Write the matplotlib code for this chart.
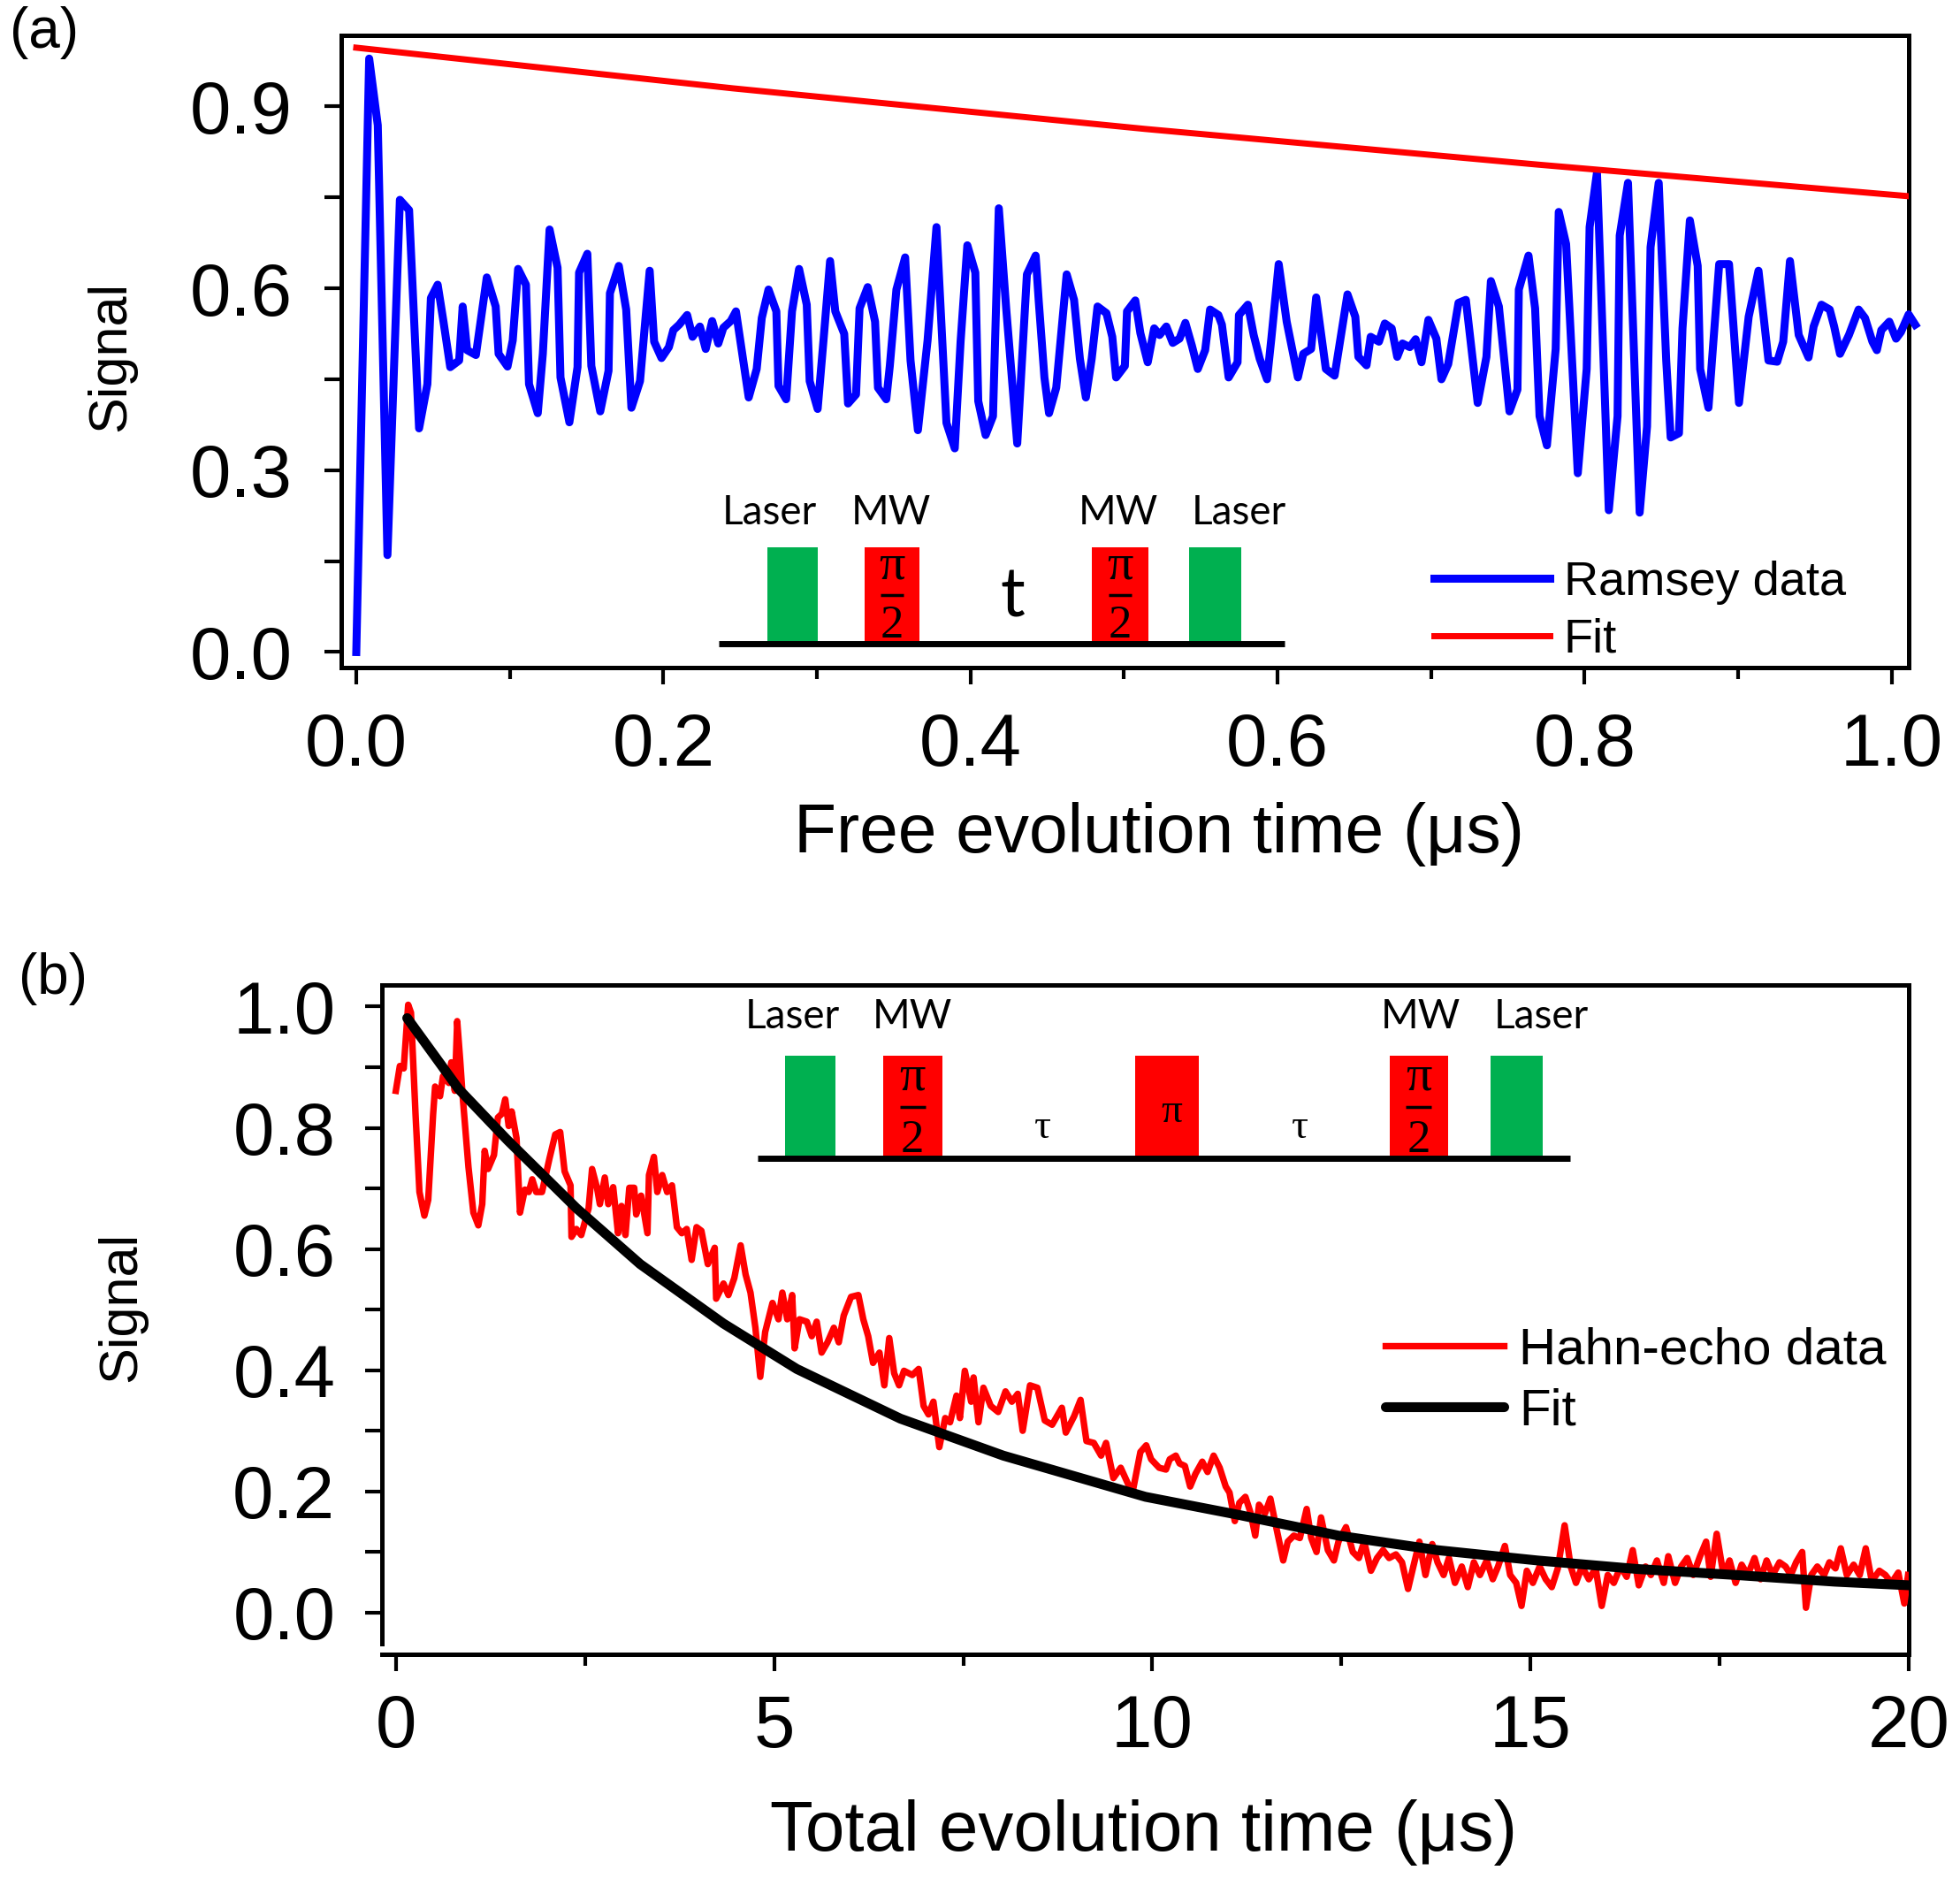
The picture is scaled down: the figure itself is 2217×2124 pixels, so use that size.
import matplotlib
matplotlib.use("Agg")
import matplotlib.pyplot as plt
from matplotlib.patches import Rectangle
from matplotlib.ticker import MultipleLocator, FormatStrFormatter

plt.rcParams['font.family'] = ['Liberation Sans', 'DejaVu Sans']

# ---------------- Panel (a): Ramsey ----------------
ramsey_t = [0.000, 0.0084, 0.0140, 0.0203, 0.0284, 0.0344, 0.0409, 0.0463, 0.0486, 0.0530,
            0.0568, 0.0612, 0.0670, 0.0693, 0.0722, 0.0779, 0.0850, 0.0908, 0.0927, 0.0985,
            0.1019, 0.1054, 0.1105, 0.1125, 0.1182, 0.1215, 0.1259, 0.1311, 0.1330, 0.1388,
            0.1441, 0.1451, 0.1505, 0.1531, 0.1589, 0.1643, 0.1652, 0.1710, 0.1758, 0.1792,
            0.1848, 0.1911, 0.1940, 0.1988, 0.2036, 0.2065, 0.2103, 0.2155, 0.2190, 0.2238,
            0.2276, 0.2318, 0.2358, 0.2391, 0.2439, 0.2473, 0.2556,
            0.2608, 0.2641, 0.2685, 0.2736, 0.2750, 0.2800, 0.2838, 0.2884, 0.2934, 0.2953,
            0.3005, 0.3044, 0.3086, 0.3120, 0.3178, 0.3203, 0.3255, 0.3278, 0.3331, 0.3379,
            0.3398, 0.3452, 0.3475, 0.3518, 0.3575, 0.3610, 0.3658, 0.3721, 0.3779, 0.3844,
            0.3898, 0.3936, 0.3980, 0.4032, 0.4051, 0.4099, 0.4147, 0.4185, 0.4233, 0.4305,
            0.4368, 0.4425, 0.4445, 0.4482, 0.4512, 0.4559, 0.4627, 0.4675, 0.4713, 0.4752,
            0.4790, 0.4828, 0.4886, 0.4924, 0.4949, 0.5006, 0.5020, 0.5074,
            0.5107, 0.5155, 0.5197, 0.5232, 0.5276, 0.5318, 0.5362, 0.5400, 0.5442, 0.5481,
            0.5529, 0.5561, 0.5615, 0.5638, 0.5682, 0.5740, 0.5749, 0.5807, 0.5845, 0.5884,
            0.5932, 0.5960, 0.6008, 0.6060, 0.6133, 0.6168, 0.6219, 0.6252, 0.6315, 0.6372,
            0.6456, 0.6507, 0.6527, 0.6580, 0.6607, 0.6661, 0.6699, 0.6744, 0.6780, 0.6814,
            0.6862, 0.6900, 0.6938, 0.6983, 0.7035, 0.7068, 0.7112, 0.7179, 0.7227, 0.7304,
            0.7361, 0.7390, 0.7442, 0.7511, 0.7563, 0.7572, 0.7635,
            0.7678, 0.7707, 0.7755, 0.7812, 0.7832, 0.7880, 0.7956, 0.8014, 0.8033, 0.8081,
            0.8158, 0.8215, 0.8229, 0.8283, 0.8359, 0.8407, 0.8430, 0.8483, 0.8532, 0.8561,
            0.8615, 0.8638, 0.8686, 0.8737, 0.8753, 0.8807, 0.8877, 0.8941, 0.9006, 0.9069,
            0.9133, 0.9198, 0.9255, 0.9294, 0.9338, 0.9395, 0.9459, 0.9492, 0.9543, 0.9597,
            0.9626, 0.9664, 0.9722, 0.9785, 0.9827, 0.9875, 0.9904, 0.9933, 0.9985, 1.0029,
            1.0061, 1.0111, 1.0154]
ramsey_v = [0.000, 0.979, 0.869, 0.160, 0.746, 0.729, 0.369, 0.442, 0.584, 0.606,
            0.545, 0.470, 0.481, 0.570, 0.498, 0.490, 0.618, 0.570, 0.492, 0.471,
            0.514, 0.632, 0.606, 0.442, 0.394, 0.492, 0.697, 0.634, 0.453, 0.379,
            0.470, 0.626, 0.657, 0.472, 0.397, 0.464, 0.592, 0.637, 0.565, 0.403,
            0.447, 0.629, 0.512, 0.485, 0.503, 0.531, 0.540, 0.556, 0.520, 0.537,
            0.500, 0.546, 0.509, 0.535, 0.546, 0.562, 0.420,
            0.467, 0.551, 0.598, 0.562, 0.439, 0.417, 0.562, 0.632, 0.573, 0.447,
            0.401, 0.517, 0.645, 0.562, 0.525, 0.410, 0.425, 0.567, 0.602, 0.545,
            0.436, 0.417, 0.472, 0.598, 0.651, 0.481, 0.366, 0.514, 0.701, 0.378,
            0.336, 0.512, 0.671, 0.626, 0.414, 0.358, 0.389, 0.732, 0.567, 0.344,
            0.623, 0.654, 0.579, 0.453, 0.394, 0.436, 0.623, 0.581, 0.484, 0.420,
            0.484, 0.570, 0.559, 0.520, 0.453, 0.472, 0.562, 0.580,
            0.526, 0.478, 0.534, 0.523, 0.537, 0.510, 0.517, 0.543, 0.506, 0.467,
            0.498, 0.565, 0.556, 0.540, 0.453, 0.478, 0.556, 0.573, 0.523, 0.484,
            0.450, 0.517, 0.640, 0.545, 0.453, 0.492, 0.500, 0.585, 0.467, 0.456,
            0.590, 0.553, 0.487, 0.473, 0.520, 0.512, 0.542, 0.534, 0.487, 0.509,
            0.503, 0.516, 0.478, 0.548, 0.517, 0.450, 0.475, 0.576, 0.581, 0.411,
            0.487, 0.612, 0.570, 0.397, 0.433, 0.598, 0.654,
            0.567, 0.389, 0.341, 0.500, 0.726, 0.673, 0.295, 0.467, 0.701, 0.791,
            0.234, 0.389, 0.687, 0.774, 0.230, 0.372, 0.668, 0.774, 0.481, 0.354,
            0.361, 0.534, 0.712, 0.637, 0.467, 0.403, 0.640, 0.640, 0.411, 0.553,
            0.629, 0.481, 0.479, 0.512, 0.645, 0.523, 0.486, 0.537, 0.573, 0.565,
            0.537, 0.492, 0.523, 0.565, 0.551, 0.512, 0.498, 0.531, 0.545, 0.517,
            0.528, 0.557, 0.540]
ramsey_fit_t = [0.0, 0.245, 0.5135, 0.77, 1.011]
ramsey_fit_v = [0.997, 0.930, 0.863, 0.804, 0.752]

# ---------------- Panel (b): Hahn echo ----------------
hahn_t = [0.000, 0.053, 0.104, 0.163, 0.200, 0.260, 0.312, 0.377, 0.428, 0.493,
          0.519, 0.584, 0.623, 0.701, 0.733, 0.779, 0.811, 0.850, 0.882, 0.960,
          1.025, 1.090, 1.142, 1.174, 1.219, 1.297, 1.349, 1.401, 1.446, 1.492,
          1.531, 1.595, 1.641, 1.706, 1.757, 1.803, 1.855, 1.932, 2.030, 2.107,
          2.172, 2.231, 2.309, 2.322, 2.386, 2.451, 2.548, 2.594, 2.659, 2.697,
          2.762, 2.808, 2.873, 2.937, 2.983, 3.035, 3.086, 3.151, 3.177, 3.242,
          3.326, 3.346, 3.411, 3.456, 3.521, 3.586, 3.650, 3.715, 3.780, 3.845,
          3.910, 3.975, 4.039, 4.124, 4.215, 4.234, 4.331, 4.396, 4.474, 4.558,
          4.623, 4.688, 4.753, 4.817, 4.882, 4.979, 5.058, 5.109, 5.174, 5.239,
          5.271, 5.336, 5.433, 5.498, 5.563, 5.628, 5.706, 5.790, 5.855, 5.920,
          6.017, 6.114, 6.179, 6.244, 6.308, 6.393, 6.457, 6.522, 6.587, 6.652,
          6.717, 6.827, 6.911, 6.976, 7.041, 7.106, 7.184, 7.262, 7.326, 7.411,
          7.456, 7.521, 7.605, 7.637, 7.702, 7.767, 7.864, 7.962, 8.059, 8.143,
          8.221, 8.286, 8.383, 8.480, 8.578, 8.675, 8.804, 8.856, 8.966, 9.051,
          9.129, 9.226, 9.323, 9.388, 9.485, 9.582, 9.680, 9.744, 9.842, 9.919,
          9.984, 10.09, 10.18, 10.23, 10.31, 10.36, 10.43, 10.50, 10.57, 10.66,
          10.73, 10.81, 10.89, 10.97, 11.02, 11.09, 11.15, 11.23, 11.30, 11.36,
          11.41, 11.49, 11.56, 11.62, 11.73, 11.79, 11.87, 11.95, 12.04, 12.10,
          12.17, 12.23, 12.32, 12.40, 12.46, 12.56, 12.65, 12.73, 12.80, 12.89,
          12.97, 13.05, 13.13, 13.22, 13.30, 13.38, 13.45, 13.53, 13.61, 13.70,
          13.77, 13.85, 13.92, 14.00, 14.09, 14.17, 14.25, 14.33, 14.42, 14.50,
          14.57, 14.66, 14.73, 14.81, 14.88, 14.95, 15.03, 15.12, 15.20, 15.28,
          15.36, 15.45, 15.53, 15.60, 15.68, 15.77, 15.86, 15.94, 16.02, 16.10,
          16.19, 16.27, 16.35, 16.43, 16.52, 16.59, 16.67, 16.76, 16.82, 16.91,
          16.99, 17.07, 17.15, 17.24, 17.32, 17.38, 17.46, 17.55, 17.63, 17.71,
          17.79, 17.87, 17.96, 18.04, 18.12, 18.20, 18.29, 18.37, 18.44, 18.51,
          18.59, 18.64, 18.71, 18.79, 18.88, 18.95, 19.03, 19.10, 19.18, 19.27,
          19.35, 19.43, 19.51, 19.61, 19.69, 19.77, 19.86, 19.94, 19.99]
hahn_v = [0.861, 0.902, 0.898, 1.003, 0.990, 0.823, 0.694, 0.655, 0.681, 0.823,
          0.868, 0.852, 0.885, 0.874, 0.908, 0.861, 0.976, 0.912, 0.854, 0.735,
          0.660, 0.639, 0.674, 0.762, 0.732, 0.755, 0.817, 0.823, 0.847, 0.803,
          0.827, 0.783, 0.660, 0.698, 0.694, 0.715, 0.694, 0.694, 0.749, 0.789,
          0.793, 0.728, 0.705, 0.620, 0.633, 0.623, 0.667, 0.732, 0.701, 0.674,
          0.718, 0.674, 0.702, 0.626, 0.671, 0.623, 0.701, 0.701, 0.657, 0.688,
          0.626, 0.722, 0.752, 0.694, 0.722, 0.694, 0.705, 0.636, 0.626, 0.633,
          0.582, 0.636, 0.630, 0.575, 0.602, 0.518, 0.543, 0.524, 0.552, 0.606,
          0.558, 0.528, 0.470, 0.389, 0.463, 0.511, 0.484, 0.528, 0.484, 0.524,
          0.436, 0.484, 0.480, 0.456, 0.480, 0.429, 0.446, 0.470, 0.446, 0.490,
          0.521, 0.524, 0.484, 0.456, 0.412, 0.429, 0.375, 0.453, 0.395, 0.375,
          0.399, 0.392, 0.402, 0.341, 0.327, 0.348, 0.273, 0.321, 0.314, 0.358,
          0.321, 0.399, 0.348, 0.388, 0.314, 0.371, 0.341, 0.331, 0.365, 0.348,
          0.361, 0.300, 0.375, 0.371, 0.317, 0.310, 0.338, 0.297, 0.324, 0.351,
          0.283, 0.280, 0.259, 0.280, 0.222, 0.239, 0.212, 0.202, 0.265, 0.276,
          0.253, 0.239, 0.236, 0.253, 0.259, 0.246, 0.242, 0.208, 0.229, 0.249,
          0.232, 0.259, 0.239, 0.208, 0.198, 0.151, 0.181, 0.191, 0.164, 0.127,
          0.178, 0.164, 0.188, 0.151, 0.086, 0.117, 0.127, 0.123, 0.171, 0.123,
          0.100, 0.157, 0.103, 0.086, 0.117, 0.141, 0.100, 0.090, 0.117, 0.069,
          0.090, 0.103, 0.090, 0.096, 0.083, 0.039, 0.076, 0.117, 0.062, 0.113,
          0.083, 0.062, 0.090, 0.049, 0.076, 0.042, 0.083, 0.062, 0.086, 0.055,
          0.076, 0.110, 0.062, 0.049, 0.011, 0.069, 0.049, 0.076, 0.055, 0.042,
          0.073, 0.144, 0.076, 0.049, 0.076, 0.055, 0.073, 0.011, 0.062, 0.049,
          0.076, 0.059, 0.103, 0.045, 0.076, 0.062, 0.086, 0.049, 0.093, 0.049,
          0.076, 0.090, 0.062, 0.093, 0.117, 0.059, 0.130, 0.062, 0.086, 0.049,
          0.079, 0.062, 0.090, 0.055, 0.086, 0.062, 0.083, 0.076, 0.062, 0.083,
          0.100, 0.008, 0.062, 0.076, 0.062, 0.083, 0.073, 0.106, 0.062, 0.079,
          0.062, 0.106, 0.052, 0.069, 0.062, 0.049, 0.066, 0.015, 0.062]
hahn_fit_t = [0.15, 0.83, 1.48, 2.39, 3.23, 4.33, 5.30, 6.67, 8.03, 9.91,
              11.15, 12.46, 13.77, 15.09, 16.40, 17.71, 19.02, 20.0]
hahn_fit_v = [0.981, 0.864, 0.779, 0.667, 0.575, 0.477, 0.402, 0.320, 0.259, 0.191,
              0.161, 0.127, 0.103, 0.086, 0.072, 0.062, 0.051, 0.045]

BLUE = '#0000FF'
RED = '#FF0000'
GREEN = '#00B050'

fig = plt.figure(figsize=(22.17, 21.24), dpi=100)
axa = fig.add_axes([0.1741, 0.6445, 0.7997, 0.3367])
axb = fig.add_axes([0.1949, 0.1191, 0.7790, 0.3564])

TICK_FS = 60
for ax in (axa, axb):
    for s in ax.spines.values():
        s.set_linewidth(3.6)
    ax.tick_params(which='both', direction='out', width=3, top=False, right=False)
    ax.tick_params(which='major', length=14, labelsize=TICK_FS)
    ax.tick_params(axis='y', which='minor', length=14)
    ax.tick_params(axis='x', which='minor', length=9)

# ---- Panel a ----
axa.plot(ramsey_t, ramsey_v, color=BLUE, lw=6.5, label='Ramsey data', clip_on=False, zorder=3)
axa.plot(ramsey_fit_t, ramsey_fit_v, color=RED, lw=5, label='Fit', zorder=4)
axa.set_xlim(-0.0098, 1.0111)
axa.set_ylim(-0.0257, 1.0174)
axa.xaxis.set_major_locator(MultipleLocator(0.2))
axa.xaxis.set_minor_locator(MultipleLocator(0.1))
axa.yaxis.set_major_locator(MultipleLocator(0.3))
axa.yaxis.set_minor_locator(MultipleLocator(0.15))
axa.xaxis.set_major_formatter(FormatStrFormatter('%.1f'))
axa.yaxis.set_major_formatter(FormatStrFormatter('%.1f'))
axa.tick_params(axis='x', which='major', pad=22)
axa.tick_params(axis='y', which='major', pad=26)
axa.set_xlabel('Free evolution time (\u03bcs)', fontsize=56.5)
axa.xaxis.set_label_coords(0.522, -0.213)
axa.xaxis.label.set_va('top')
axa.set_ylabel('Signal', fontsize=44)
axa.yaxis.set_label_coords(-0.131, 0.492)
axa.legend(loc='upper left', bbox_to_anchor=(0.697, 0.170), frameon=False, fontsize=39,
           handlelength=2.43, handletextpad=0.28, labelspacing=0.28, borderpad=0,
           borderaxespad=0)

# ---- Panel b ----
axb.plot(hahn_t, hahn_v, color=RED, lw=5.3, label='Hahn-echo data', zorder=3)
axb.plot(hahn_fit_t, hahn_fit_v, color='black', lw=8, label='Fit', zorder=4,
         solid_capstyle='round')
axb.set_xlim(-0.183, 20.0)
axb.set_ylim(-0.0689, 1.0356)
axb.spines['left'].set_bounds(-0.0515, 1.0356)
axb.xaxis.set_major_locator(MultipleLocator(5))
axb.xaxis.set_minor_locator(MultipleLocator(2.5))
axb.yaxis.set_major_locator(MultipleLocator(0.2))
axb.yaxis.set_minor_locator(MultipleLocator(0.1))
axb.yaxis.set_major_formatter(FormatStrFormatter('%.1f'))
axb.tick_params(axis='x', which='major', pad=18)
axb.tick_params(axis='y', which='major', pad=24)
axb.set_xlabel('Total evolution time (\u03bcs)', fontsize=57.5)
axb.xaxis.set_label_coords(0.499, -0.216)
axb.xaxis.label.set_va('top')
axb.set_ylabel('Signal', fontsize=44)
axb.yaxis.set_label_coords(-0.154, 0.519)
axb.legend(loc='upper left', bbox_to_anchor=(0.657, 0.490), frameon=False, fontsize=42,
           handlelength=2.3, handletextpad=0.3, labelspacing=0.26, borderpad=0,
           borderaxespad=0)

# ---- pulse-sequence insets ----
SEQ_FONT = ['Lato', 'DejaVu Sans']
SYM_FONT = ['Liberation Serif', 'DejaVu Serif']


def pulse(ax, x0, x1, y0, y1, color):
    ax.add_patch(Rectangle((x0, y0), x1 - x0, y1 - y0, transform=ax.transAxes,
                           facecolor=color, edgecolor='none', zorder=5))


def half_pi(ax, xc, y_pi, y_bar, y_two, fs_pi, fs_two, half_w):
    ax.text(xc, y_pi, '\u03c0', transform=ax.transAxes, ha='center', va='center',
            fontsize=fs_pi, family=SYM_FONT, zorder=6)
    ax.plot([xc - half_w, xc + half_w], [y_bar, y_bar], transform=ax.transAxes,
            color='black', lw=2.5, zorder=6, solid_capstyle='butt')
    ax.text(xc, y_two, '2', transform=ax.transAxes, ha='center', va='center',
            fontsize=fs_two, family=SYM_FONT, zorder=6)


# inset a
base_a = 0.038
top_a = 0.190
axa.plot([0.241, 0.602], [base_a, base_a], transform=axa.transAxes, color='black', lw=5,
         zorder=6, solid_capstyle='butt')
pulse(axa, 0.272, 0.304, base_a, top_a, GREEN)
pulse(axa, 0.334, 0.369, base_a, top_a, RED)
pulse(axa, 0.479, 0.515, base_a, top_a, RED)
pulse(axa, 0.541, 0.574, base_a, top_a, GREEN)
half_pi(axa, 0.3515, 0.160, 0.115, 0.066, 42, 38, 0.0075)
half_pi(axa, 0.497, 0.160, 0.115, 0.066, 42, 38, 0.0075)
axa.text(0.428, 0.110, 't', transform=axa.transAxes, ha='center', va='center',
         fontsize=56, family=SEQ_FONT, zorder=6)
for xc, lab in [(0.273, 'Laser'), (0.351, 'MW'), (0.496, 'MW'), (0.573, 'Laser')]:
    axa.text(xc, 0.227, lab, transform=axa.transAxes, ha='center', va='baseline',
             fontsize=33, family=SEQ_FONT, zorder=6)

# inset b
base_b = 0.741
top_b = 0.894
axb.plot([0.246, 0.778], [base_b, base_b], transform=axb.transAxes, color='black', lw=5,
         zorder=6, solid_capstyle='butt')
pulse(axb, 0.264, 0.297, base_b, top_b, GREEN)
pulse(axb, 0.328, 0.367, base_b, top_b, RED)
pulse(axb, 0.493, 0.535, base_b, top_b, RED)
pulse(axb, 0.660, 0.698, base_b, top_b, RED)
pulse(axb, 0.726, 0.760, base_b, top_b, GREEN)
half_pi(axb, 0.3475, 0.862, 0.818, 0.768, 42, 38, 0.0085)
half_pi(axb, 0.679, 0.862, 0.818, 0.768, 42, 38, 0.0085)
axb.text(0.517, 0.810, '\u03c0', transform=axb.transAxes, ha='center', va='center',
         fontsize=34, family=SYM_FONT, zorder=6)
for xc in (0.4325, 0.601):
    axb.text(xc, 0.787, '\u03c4', transform=axb.transAxes, ha='center', va='center',
             fontsize=34, family=SYM_FONT, zorder=6)
for xc, lab in [(0.269, 'Laser'), (0.347, 'MW'), (0.680, 'MW'), (0.759, 'Laser')]:
    axb.text(xc, 0.935, lab, transform=axb.transAxes, ha='center', va='baseline',
             fontsize=33, family=SEQ_FONT, zorder=6)

fig.text(11 / 2217, 1 - 7 / 2124, '(a)', fontsize=46, ha='left', va='top')
fig.text(21 / 2217, 1 - 1077 / 2124, '(b)', fontsize=46, ha='left', va='top')

fig.savefig('out.png', dpi=100)
